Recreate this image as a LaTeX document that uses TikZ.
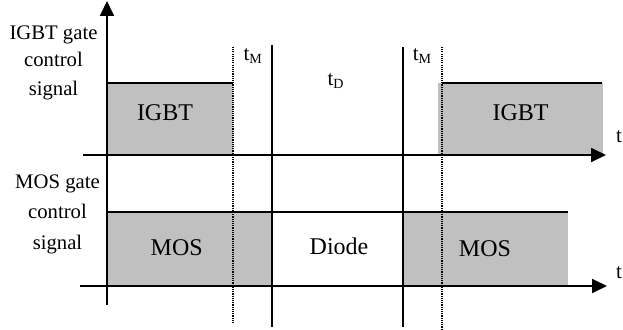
\documentclass[tikz,border=0pt]{standalone}
\usepackage{fontspec}
\setmainfont{Liberation Serif}
\usetikzlibrary{arrows.meta}
\definecolor{boxgray}{HTML}{C0C0C0}
\newcommand{\tsub}[1]{t\raisebox{-3pt}{\fontsize{14}{14}\selectfont #1}}
\begin{document}
\begin{tikzpicture}[x=1pt,y=-1pt,
  axis/.style={line width=1.8pt,-{Triangle[length=15pt,width=14pt]}},
  solidline/.style={line width=1.7pt},
  topline/.style={line width=1.8pt},
  dotline/.style={line width=1.3pt,dash pattern=on 1.1pt off 1.1pt},
  grayfill/.style={fill=boxgray},
  sidelab/.style={font=\fontsize{20.7}{25}\selectfont,inner sep=0pt,anchor=base},
  boxlab/.style={font=\fontsize{24}{28}\selectfont,inner sep=0pt,anchor=base},
  tlab/.style={font=\fontsize{21}{25}\selectfont,inner sep=0pt,anchor=base west}]
\useasboundingbox (0,0) rectangle (623,329);
% coordinates
\coordinate (ybot) at (107,305);
\coordinate (ytop) at (107,1);
\coordinate (a1s) at (83,155);
\coordinate (a1e) at (606,155);
\coordinate (a2s) at (80,286);
\coordinate (a2e) at (607,286);
\coordinate (s1t) at (272,45);
\coordinate (s1b) at (272,327);
\coordinate (s2t) at (403,47);
\coordinate (s2b) at (403,327);
\coordinate (d1t) at (233,47);
\coordinate (d1b) at (233,323);
\coordinate (d2t) at (442,47);
\coordinate (d2b) at (442,329);
% gray boxes
\fill[grayfill] (107,83) rectangle (233,155);
\fill[grayfill] (438,83) rectangle (603,155);
\fill[grayfill] (107,212) rectangle (272,286);
\fill[grayfill] (403,212) rectangle (568,286);
% dotted lines
\draw[dotline] (d1t) -- (d1b);
\draw[dotline] (d2t) -- (d2b);
% solid verticals
\draw[solidline] (s1t) -- (s1b);
\draw[solidline] (s2t) -- (s2b);
% signal top lines
\coordinate (i1l) at (107,83);
\coordinate (i1r) at (233,83);
\coordinate (i2l) at (442,83);
\coordinate (i2r) at (602,83);
\coordinate (m1l) at (107,212);
\coordinate (m1r) at (568,212);
\draw[topline] (i1l) -- (i1r);
\draw[topline] (i2l) -- (i2r);
\draw[solidline] (m1l) -- (m1r);
% axes
\draw[axis] (ybot) -- (ytop);
\draw[axis] (a1s) -- (a1e);
\draw[axis] (a2s) -- (a2e);
% side labels
\node[sidelab] (ig1) at (53.5,39.5) {IGBT gate};
\node[sidelab] (ig2) at (53.5,66.5) {control};
\node[sidelab] (ig3) at (53.5,95) {signal};
\node[sidelab] (mg1) at (57.5,188.3) {MOS gate};
\node[sidelab] (mg2) at (57.5,218.3) {control};
\node[sidelab] (mg3) at (57.5,249) {signal};
% box labels
\node[boxlab] (igbt1) at (165,120) {IGBT};
\node[boxlab] (igbt2) at (520.5,120.5) {IGBT};
\node[boxlab] (mos1) at (176.7,255) {MOS};
\node[boxlab] (diode) at (339,254) {Diode};
\node[boxlab] (mos2) at (485,256) {MOS};
% time labels
\node[tlab] (tm1) at (243.3,60.5) {\tsub{M}};
\node[tlab] (tm2) at (412.7,60.5) {\tsub{M}};
\node[tlab] (td) at (327.3,85) {\tsub{D}};
\node[tlab] (t1) at (616,142) {t};
\node[tlab] (t2) at (616,278) {t};
\end{tikzpicture}
\end{document}
